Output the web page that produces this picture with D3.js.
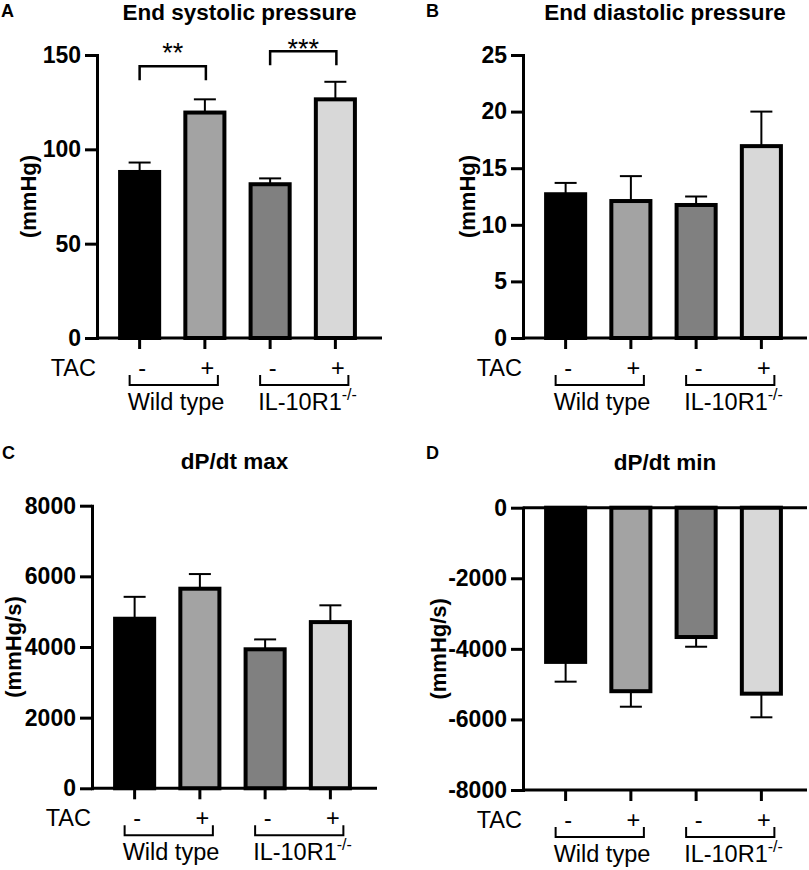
<!DOCTYPE html>
<html>
<head>
<meta charset="utf-8">
<script src="https://cdn.jsdelivr.net/npm/d3@7"></script>
<style>
    body { margin: 0; background: #fff; }
    text { font-family: "Liberation Sans", Arial, sans-serif; fill: #000; }
</style>
</head>
<body>
<svg id="fig" width="809" height="870"></svg>
<script>
// Haemodynamics, 4 groups: WT sham, WT TAC, IL-10R1-/- sham, IL-10R1-/- TAC

const tacSigns = ['-', '+', '-', '+'];
const groupNames = ['Wild type', 'IL-10R1'];

const espMean = [88, 119.5, 81.5, 126.5];
const espSem = [5, 7, 3.1, 9.3];
const espTicks = [0, 50, 100, 150];

const edpMean = [12.7, 12.1, 11.75, 16.95];
const edpSem = [1.0, 2.2, 0.75, 3.05];
const edpTicks = [0, 5, 10, 15, 20, 25];

const dpMaxMean = [4800, 5650, 3935, 4705];
const dpMaxSem = [620, 415, 280, 475];
const dpMaxTicks = [0, 2000, 4000, 6000, 8000];

const dpMinMean = [-4370, -5200, -3665, -5270];
const dpMinSem = [560, 440, 275, 670];
const dpMinTicks = [-8000, -6000, -4000, -2000, 0];

// significance brackets for panel A (bar pairs, bracket level, star baseline level)
const sigPairs = [[0, 1], [2, 3]];
const sigLevels = [144, 152];
const sigStarAt = [146.5, 148.5];
const sigLabels = ['**', '***'];

const barColors = ['#000000', '#a3a3a3', '#808080', '#d8d8d8'];

const svg = d3.select('#fig');

const panels = [
    { letter: 'A', title: 'End systolic pressure', ylab: '(mmHg)', mean: espMean, sem: espSem,
      domain: [0, 150], ticks: espTicks, ox: 97, xEnd: 382, yTop: 55, yBot: 338,
      labX: 28, titleY: 20, letterX: 1, letterY: 17, sig: true },
    { letter: 'B', title: 'End diastolic pressure', ylab: '(mmHg)', mean: edpMean, sem: edpSem,
      domain: [0, 25], ticks: edpTicks, ox: 523, xEnd: 807, yTop: 55, yBot: 338,
      labX: 467, titleY: 20, letterX: 426, letterY: 17 },
    { letter: 'C', title: 'dP/dt max', ylab: '(mmHg/s)', mean: dpMaxMean, sem: dpMaxSem,
      domain: [0, 8000], ticks: dpMaxTicks, ox: 92, xEnd: 377, yTop: 505.7, yBot: 788.3,
      labX: 13, titleY: 469, letterX: 2, letterY: 459 },
    { letter: 'D', title: 'dP/dt min', ylab: '(mmHg/s)', mean: dpMinMean, sem: dpMinSem,
      domain: [-8000, 0], ticks: dpMinTicks, ox: 523, xEnd: 807, yTop: 507.7, yBot: 790,
      labX: 438, titleY: 470, letterX: 426, letterY: 459 }
];

function drawPanel(p) {

    let g = svg.append('g');

    let y = d3.scaleLinear()
        .domain(p.domain)
        .range([p.yBot, p.yTop]);

    let x = d3.scaleBand()
        .domain(d3.range(p.mean.length))
        .range([p.ox + 10, p.ox + 271])
        .paddingInner(0.34)
        .paddingOuter(0.17);

    const bw = x.bandwidth();
    const cx = i => x(i) + bw / 2;

    // error bars (drawn first, bars sit on top of the stem start)
    const errEnd = (d, i) => y(d + Math.sign(d) * p.sem[i]);

    g.selectAll('.err-stem')
        .data(p.mean)
        .join('line')
        .classed('err-stem', true)
        .attr('x1', (d, i) => cx(i))
        .attr('x2', (d, i) => cx(i))
        .attr('y1', d => y(d))
        .attr('y2', errEnd)
        .attr('stroke', '#000')
        .attr('stroke-width', 2);

    g.selectAll('.err-cap')
        .data(p.mean)
        .join('line')
        .classed('err-cap', true)
        .attr('x1', (d, i) => cx(i) - 11)
        .attr('x2', (d, i) => cx(i) + 11)
        .attr('y1', errEnd)
        .attr('y2', errEnd)
        .attr('stroke', '#000')
        .attr('stroke-width', 2);

    g.selectAll('.bar')
        .data(p.mean)
        .join('rect')
        .classed('bar', true)
        .attr('x', (d, i) => x(i) + 2)
        .attr('width', bw - 4)
        .attr('y', d => Math.min(y(d), y(0)))
        .attr('height', d => Math.abs(y(d) - y(0)))
        .attr('fill', (d, i) => barColors[i])
        .attr('stroke', '#000')
        .attr('stroke-width', 4);

    // y axis
    let yAxis = g.append('g')
        .attr('transform', `translate(${p.ox},0)`)
        .call(d3.axisLeft(y)
            .tickValues(p.ticks)
            .tickFormat(d => String(d))
            .tickSize(12)
            .tickSizeOuter(0)
            .tickPadding(4));

    yAxis.select('.domain').attr('stroke-width', 3).attr('stroke-linecap', 'square');
    yAxis.selectAll('.tick line').attr('stroke-width', 3);
    yAxis.selectAll('.tick text')
        .attr('font-size', '23px')
        .attr('font-weight', 'bold')
        .attr('font-family', '"Liberation Sans", Arial, sans-serif')
        .attr('fill', '#000');

    // x axis along the bottom, with ticks under each bar
    g.append('line')
        .attr('x1', p.ox)
        .attr('x2', p.xEnd)
        .attr('y1', p.yBot)
        .attr('y2', p.yBot)
        .attr('stroke', '#000')
        .attr('stroke-width', 3);

    if (y(0) !== p.yBot) {
        g.append('line')
            .attr('x1', p.ox)
            .attr('x2', p.xEnd)
            .attr('y1', y(0))
            .attr('y2', y(0))
            .attr('stroke', '#000')
            .attr('stroke-width', 3);
    }

    let xAxis = g.append('g')
        .attr('transform', `translate(0,${p.yBot})`)
        .call(d3.axisBottom(x).tickSize(11).tickSizeOuter(0).tickFormat(() => ''));
    xAxis.select('.domain').remove();
    xAxis.selectAll('.tick line').attr('stroke-width', 3);

    // TAC row
    g.append('text')
        .attr('x', p.ox - 1)
        .attr('y', p.yBot + 38)
        .attr('text-anchor', 'end')
        .attr('font-size', '23.5px')
        .text('TAC');

    g.selectAll('.tac')
        .data(tacSigns)
        .join('text')
        .classed('tac', true)
        .attr('x', (d, i) => cx(i) + 2.5)
        .attr('y', p.yBot + 38)
        .attr('text-anchor', 'middle')
        .attr('font-size', '23.5px')
        .text(d => d);

    // genotype brackets
    groupNames.forEach((name, k) => {
        let left = cx(2 * k) - 10;
        let right = cx(2 * k + 1) + 13;
        g.append('path')
            .attr('d', `M${left},${p.yBot + 37}V${p.yBot + 47}H${right}V${p.yBot + 37}`)
            .attr('fill', 'none')
            .attr('stroke', '#000')
            .attr('stroke-width', 2);

        let t = g.append('text')
            .attr('x', left - 2)
            .attr('y', p.yBot + 72)
            .attr('font-size', '23.5px')
            .text(name);
        if (k === 1) {
            t.append('tspan')
                .attr('dy', -10)
                .attr('font-size', '16px')
                .text('-/-');
        }
    });

    // titles
    g.append('text')
        .attr('x', (p.ox + p.xEnd) / 2)
        .attr('y', p.titleY)
        .attr('text-anchor', 'middle')
        .attr('font-size', '22.5px')
        .attr('font-weight', 'bold')
        .text(p.title);

    g.append('text')
        .attr('x', p.letterX)
        .attr('y', p.letterY)
        .attr('font-size', '18px')
        .attr('font-weight', 'bold')
        .text(p.letter);

    g.append('text')
        .attr('transform', `translate(${p.labX},${(p.yTop + p.yBot) / 2}) rotate(-90)`)
        .attr('text-anchor', 'middle')
        .attr('dominant-baseline', 'central')
        .attr('font-size', '22px')
        .attr('font-weight', 'bold')
        .text(p.ylab);

    // significance brackets
    if (p.sig) {
        sigPairs.forEach((pair, k) => {
            let x1 = cx(pair[0]);
            let x2 = cx(pair[1]) + 1;
            let top = y(sigLevels[k]);
            g.append('path')
                .attr('d', `M${x1},${top + 14}V${top}H${x2}V${top + 14}`)
                .attr('fill', 'none')
                .attr('stroke', '#000')
                .attr('stroke-width', 2.5);
            g.append('text')
                .attr('x', (x1 + x2) / 2)
                .attr('y', y(sigStarAt[k]))
                .attr('text-anchor', 'middle')
                .attr('font-size', '27px')
                .text(sigLabels[k]);
        });
    }
}

panels.forEach(drawPanel);
</script>
</body>
</html>
